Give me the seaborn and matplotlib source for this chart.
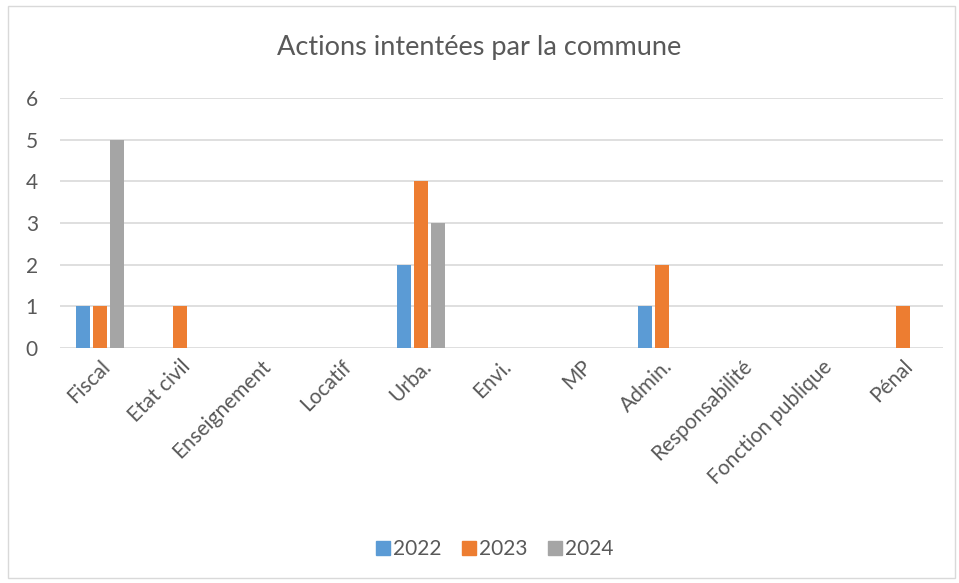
import matplotlib

matplotlib.use("Agg")

import matplotlib.pyplot as plt
import pandas as pd
import seaborn as sns
from matplotlib.patches import Rectangle

categories = [
    "Fiscal", "Etat civil", "Enseignement", "Locatif", "Urba.", "Envi.",
    "MP", "Admin.", "Responsabilité", "Fonction publique", "Pénal",
]
years = ["2022", "2023", "2024"]
v2022 = [1, 0, 0, 0, 2, 0, 0, 1, 0, 0, 0]
v2023 = [1, 1, 0, 0, 4, 0, 0, 2, 0, 0, 1]
v2024 = [5, 0, 0, 0, 3, 0, 0, 0, 0, 0, 0]

df = pd.DataFrame({
    "categorie": categories * 3,
    "annee": [y for y in years for _ in categories],
    "actions": v2022 + v2023 + v2024,
})

sns.set_theme(style="white")
plt.rcParams["font.family"] = ["Lato", "DejaVu Sans"]
text_col = "#595959"

fig = plt.figure(figsize=(9.59, 5.83), dpi=100)
ax = fig.add_axes([0.0626, 0.403, 0.9204, 0.429])

palette = {"2022": "#5B9BD5", "2023": "#ED7D31", "2024": "#A5A5A5"}
sns.barplot(data=df, x="categorie", y="actions", hue="annee", palette=palette,
            hue_order=years, width=0.64, gap=0.18, linewidth=0, saturation=1,
            ax=ax, legend=False)

ax.set_ylim(0, 6)
ax.set_yticks(range(7))
ax.yaxis.grid(True, color="#D9D9D9", linewidth=1.2)
ax.set_axisbelow(True)
for s in ax.spines.values():
    s.set_visible(False)
ax.set_xlabel("")
ax.set_ylabel("")
ax.tick_params(axis="both", length=0, colors=text_col, labelsize=15)
ax.tick_params(axis="y", pad=16)
ax.tick_params(axis="x", pad=6)
plt.setp(ax.get_xticklabels(), rotation=45, ha="right", rotation_mode="anchor")

fig.text(0.5, 0.918, "Actions intentées par la commune", ha="center",
         va="center", fontsize=19.5, color=text_col)

handles = [plt.Line2D([], [], marker="s", linestyle="", markersize=10,
                      color=palette[y]) for y in years]
fig.legend(handles, years, loc="center", bbox_to_anchor=(0.515, 0.058), ncol=3,
           frameon=False, fontsize=15, labelcolor=text_col,
           handletextpad=0.1, columnspacing=0.9, handlelength=0.8)

fig.patches.append(Rectangle((0.008, 0.008), 0.988, 0.982, transform=fig.transFigure,
                             fill=False, edgecolor="#D9D9D9", linewidth=1))

fig.savefig("out.png", dpi=100)
